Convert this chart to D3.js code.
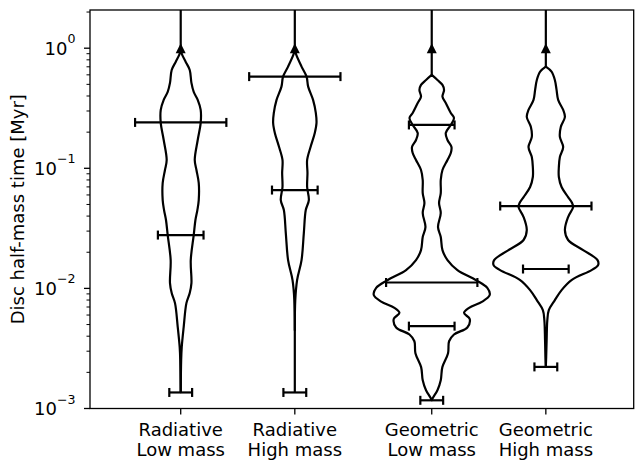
<!DOCTYPE html>
<html><head><meta charset="utf-8">
<script src="https://cdn.jsdelivr.net/npm/d3@7"></script>
<style>body{margin:0;background:#fff} svg{display:block} text{font-family:"DejaVu Sans",sans-serif;fill:#000}</style>
</head><body><svg id="c" width="635" height="460"></svg>
<script>
// ---- data ----
const categories = [["Radiative","Low mass"],["Radiative","High mass"],["Geometric","Low mass"],["Geometric","High mass"]];
const positions = [1, 2, 3.2, 4.2];
const yTickValues = [1e-3, 1e-2, 1e-1, 1];
const yTickExponents = ["\u22123", "\u22122", "\u22121", "0"];
const yLabel = "Disc half-mass time [Myr]";
const minValues = [0.00136, 0.00136, 0.00117, 0.00222];
const upperMarkerValues = [1, 1, 1, 1];
const wideBarValues = [0.241, 0.580, 0.0112, 0.0485];
const narrowBarValues = [[0.0278], [0.0659], [0.2296, 0.00485], [0.0145]];

const violin1Values = [0.968,0.879,0.769,0.659,0.514,0.432,0.371,0.306,0.2385,0.172,0.1173,0.0968,0.0754,0.0544,0.0449,0.0371,0.0278,0.0172,0.01107,0.00914,0.00754,0.00476,0.00324,0.00253,0.001367];
const violin1Widths = [0,0.013,0.044,0.079,0.094,0.114,0.149,0.175,0.175,0.149,0.123,0.138,0.158,0.158,0.146,0.129,0.114,0.088,0.094,0.079,0.050,0.026,0.009,0.004,0];

const violin2Values = [0.968,0.879,0.7027,0.580,0.4786,0.371,0.2889,0.2385,0.1969,0.1505,0.1173,0.0913,0.0699,0.0544,0.0449,0.0289,0.0172,0.01173,0.00799,0.00449];
const violin2Widths = [0,0.013,0.059,0.103,0.117,0.160,0.184,0.190,0.175,0.138,0.108,0.111,0.108,0.123,0.096,0.079,0.059,0.020,0.004,0];

const violin3Values = [0.599,0.544,0.4944,0.4493,0.395,0.350,0.2889,0.2625,0.2296,0.1969,0.1721,0.1505,0.1341,0.1173,0.0968,0.0799,0.0622,0.0514,0.0424,0.0324,0.0268,0.02085,0.0172,0.01421,0.01173,0.0101,0.0088,0.00776,0.00689,0.00626,0.00556,0.00473,0.00413,0.00363,0.00289,0.00221,0.00172,0.00142,0.00124,0.001173];
const violin3Widths = [0,0.050,0.094,0.108,0.094,0.123,0.167,0.195,0.167,0.123,0.138,0.173,0.167,0.138,0.094,0.079,0.079,0.064,0.079,0.055,0.079,0.094,0.138,0.225,0.386,0.487,0.508,0.443,0.327,0.283,0.333,0.312,0.195,0.152,0.143,0.093,0.079,0.050,0.013,0];

const violin4Values = [0.7027,0.6383,0.544,0.4493,0.371,0.306,0.2676,0.2209,0.1823,0.1505,0.1242,0.1025,0.0846,0.0699,0.0576,0.0514,0.0476,0.0393,0.0306,0.0253,0.02085,0.0172,0.01563,0.01421,0.01173,0.00968,0.00799,0.00659,0.00544,0.00371,0.00268,0.00225];
const violin4Widths = [0,0.050,0.079,0.094,0.108,0.152,0.167,0.131,0.123,0.152,0.123,0.114,0.114,0.138,0.195,0.230,0.239,0.195,0.167,0.195,0.327,0.453,0.458,0.401,0.225,0.138,0.079,0.026,0.013,0.007,0.003,0];

const violinValues = [violin1Values, violin2Values, violin3Values, violin4Values];
const violinWidths = [violin1Widths, violin2Widths, violin3Widths, violin4Widths];

// ---- layout ----
const svg = d3.select("#c");
const L = 90, R = 633.7, T = 10, B = 408.5;
const x = d3.scaleLinear().domain([0.205, 4.97]).range([L, R]);
const y = d3.scaleLog().domain([1e-3, 2.08]).range([B, T]);
const k = x(1) - x(0);
const lw = 2.2;

const g = svg.append("g");

// vertical lines from min to top
positions.forEach((p, i) => {
  g.append("line").attr("x1", x(p)).attr("x2", x(p)).attr("y1", y(minValues[i])).attr("y2", T)
    .attr("stroke", "#000").attr("stroke-width", lw);
});

// violins
const area = d3.area().curve(d3.curveCatmullRom.alpha(0.5));
positions.forEach((p, i) => {
  const cx = x(p);
  const pts = violinValues[i].map((v, j) => ({v, w: violinWidths[i][j]}));
  area.y(d => y(d.v)).x0(d => cx - d.w * k).x1(d => cx + d.w * k);
  g.append("path").attr("d", area(pts)).attr("fill", "#fff").attr("stroke", "#000")
    .attr("stroke-width", lw).attr("stroke-linejoin", "round");
});

// capped bars
function bar(p, v, half) {
  const cx = x(p), yy = y(v), x0 = cx - half * k, x1 = cx + half * k;
  g.append("line").attr("x1", x0).attr("x2", x1).attr("y1", yy).attr("y2", yy).attr("stroke", "#000").attr("stroke-width", lw);
  [x0, x1].forEach(xx => g.append("line").attr("x1", xx).attr("x2", xx).attr("y1", yy - 4.5).attr("y2", yy + 4.5).attr("stroke", "#000").attr("stroke-width", lw));
}
positions.forEach((p, i) => {
  bar(p, wideBarValues[i], 0.4);
  narrowBarValues[i].forEach(v => bar(p, v, 0.2));
  bar(p, minValues[i], 0.1);
});

// upper markers
positions.forEach((p, i) => {
  const cx = x(p), cy = y(upperMarkerValues[i]), s = 5;
  g.append("path").attr("d", `M${cx},${cy - s}L${cx + s},${cy + s}L${cx - s},${cy + s}Z`).attr("fill", "#000");
});

// axes frame
const ax = svg.append("g");
ax.append("rect").attr("x", L).attr("y", T).attr("width", R - L).attr("height", B - T)
  .attr("fill", "none").attr("stroke", "#000").attr("stroke-width", 1.3);

// y ticks
const minor = [];
for (let e = -3; e <= 0; e++) for (let m = 2; m <= 9; m++) { const v = m * Math.pow(10, e); if (v <= 2.08) minor.push(v); }
minor.forEach(v => ax.append("line").attr("x1", L - 3.5).attr("x2", L).attr("y1", y(v)).attr("y2", y(v)).attr("stroke", "#000").attr("stroke-width", 1));
yTickValues.forEach((v, i) => {
  const yy = y(v);
  ax.append("line").attr("x1", L - 6).attr("x2", L).attr("y1", yy).attr("y2", yy).attr("stroke", "#000").attr("stroke-width", 1.3);
  const t = ax.append("text").attr("x", L - 14.5).attr("y", yy + 6.6).attr("text-anchor", "end").attr("font-size", 18);
  t.append("tspan").text("10");
  t.append("tspan").attr("font-size", 12.6).attr("dy", -11.5).text(yTickExponents[i]);
});

// x ticks
positions.forEach((p, i) => {
  const cx = x(p);
  ax.append("line").attr("x1", cx).attr("x2", cx).attr("y1", B).attr("y2", B + 6).attr("stroke", "#000").attr("stroke-width", 1.3);
  ax.append("text").attr("x", cx).attr("y", 435.5).attr("text-anchor", "middle").attr("font-size", 18).text(categories[i][0]);
  ax.append("text").attr("x", cx).attr("y", 455.5).attr("text-anchor", "middle").attr("font-size", 18).text(categories[i][1]);
});

// y label
ax.append("text").attr("transform", `translate(24,${(T + B) / 2}) rotate(-90)`).attr("text-anchor", "middle")
  .attr("font-size", 18).text(yLabel);
</script></body></html>
